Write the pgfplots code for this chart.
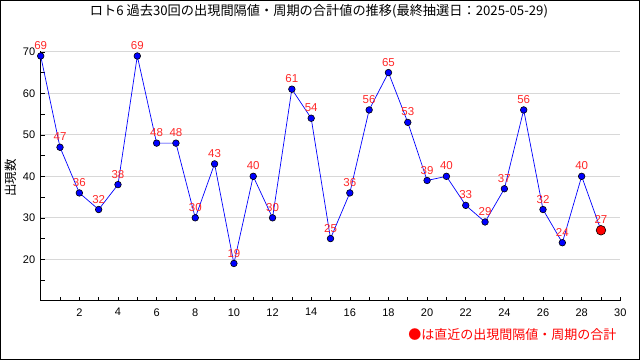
\documentclass[border=0pt]{standalone}
\usepackage{pgfplots}
\pgfplotsset{compat=1.18}
\usepackage{fontspec}
\setmainfont{Liberation Sans}
\newfontfamily\jp{Noto Sans CJK JP}
\definecolor{lblred}{HTML}{FF2828}
\definecolor{gridgray}{HTML}{D8D8D8}
\begin{document}
\begin{tikzpicture}[x=1pt,y=1pt]
\useasboundingbox (0,0) rectangle (640,360);
\fill[white] (0,0) rectangle (640,360);
\draw[line width=1pt] (0.5,0.5) rectangle (639.5,359.5);
\begin{axis}[
  at={(40.7pt,59.2pt)}, anchor=south west,
  scale only axis, width=579.6pt, height=250.2pt,
  xmin=0, xmax=30, ymin=10, ymax=70.3,
  axis x line=bottom, axis y line=left,
  axis line style={-, black, line width=0.8pt},
  tick align=inside, major tick length=4pt, minor tick length=4pt,
  tick style={black, line width=0.6pt},
  xtick={2,4,...,30}, minor xtick={1,3,...,29},
  ytick={20,30,...,70}, minor ytick={15,25,...,65},
  ymajorgrids, grid style={gridgray, line width=0.8pt},
  /pgf/number format/assume math mode=true,
  ticklabel style={font=\fontsize{11}{13}\selectfont},
  xticklabel style={yshift=-4pt},
  yticklabel style={xshift=-2pt},
  clip=false,
]
\addplot[blue, line width=0.7pt, mark=*, mark size=3.3pt,
  mark options={fill=blue, draw=black, line width=0.6pt},
  nodes near coords,
  every node near coord/.style={font=\fontsize{11.5}{13}\selectfont, text=lblred, anchor=south, yshift=6pt, inner sep=0pt},
] coordinates {
(0,69)(1,47)(2,36)(3,32)(4,38)(5,69)(6,48)(7,48)(8,30)(9,43)
(10,19)(11,40)(12,30)(13,61)(14,54)(15,25)(16,36)(17,56)(18,65)(19,53)
(20,39)(21,40)(22,33)(23,29)(24,37)(25,56)(26,32)(27,24)(28,40)(29,27)
};
\addplot[only marks, mark=*, mark size=4.8pt,
  mark options={fill=red, draw=black, line width=0.6pt}] coordinates {(29,27)};
\end{axis}
\node[font=\jp\fontsize{13.2}{15}\selectfont] at (319,348.5) {ロト6 過去30回の出現間隔値・周期の合計値の推移(最終抽選日：2025-05-29)};
\node[font=\jp\fontsize{12.5}{14}\selectfont, rotate=90] at (11,182) {出現数};
\node[font=\jp\fontsize{13}{15}\selectfont, text=red, anchor=east] at (620,25) {●は直近の出現間隔値・周期の合計};
\end{tikzpicture}
\end{document}
